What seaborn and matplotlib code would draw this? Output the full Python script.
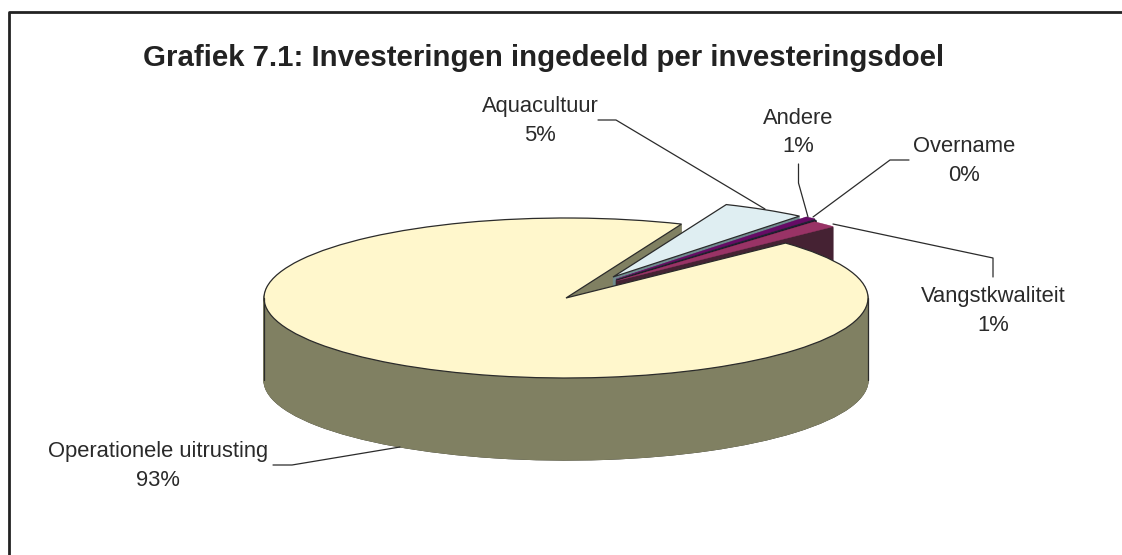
import numpy as np
import matplotlib
matplotlib.use("Agg")
import matplotlib.pyplot as plt
import seaborn as sns

# Values
categories = ["Aquacultuur", "Andere", "Overname", "Vangstkwaliteit", "Operationele uitrusting"]
shares = [4.6, 0.6, 0.1, 1.4, 93.3]
top_colors = ["#DFEEF2", "#660A66", "#1F1F3A", "#993366", "#FFF7CC"]
side_colors = ["#6F8A8E", "#2A2A2A", "#151515", "#452233", "#808062"]
title = "Grafiek 7.1: Investeringen ingedeeld per investeringsdoel"

sns.set_theme(style="white")
plt.rcParams["font.family"] = ["Liberation Sans", "DejaVu Sans"]

W, H = 1122, 555
CX, CY, RX, RY = 566, 298, 302, 80
DEPTH = 82 / RY
LINE = "#2b2b2b"
# how far each small slice is pulled out, in pixels
pull = [(47, 21), (50, 19), (50, 18), (50, 17)]
radii = [0.98, 1.0, 1.0, 0.99]

fig = plt.figure(figsize=(W / 100, H / 100), dpi=100)
ax = fig.add_axes([0, 0, 1, 1])


def px(x, y):
    return (x - CX) / RX, (CY - y) / RY


def draw_slice(i, center, color, edge=None, radius=1.0, lw=0.9):
    wedges, _ = ax.pie(shares, colors=[color] * len(shares), startangle=67.5,
                       counterclock=False, center=center, radius=radius,
                       wedgeprops={"edgecolor": edge or color, "linewidth": lw})
    for j, w in enumerate(wedges):
        if j != i:
            w.remove()


def extrude(i, center, depth, radius=1.0):
    for d in np.arange(depth, 0, -1 / RY):
        draw_slice(i, (center[0], center[1] - d), side_colors[i], radius=radius)


# big slice side first, then the pulled out slices, big top last
big = len(shares) - 1
draw_slice(big, (0, -DEPTH), side_colors[big], edge=LINE)
extrude(big, (0, 0), DEPTH)
ax.plot([-1, -1], [0, -DEPTH], color=LINE, lw=0.9)
ax.plot([1, 1], [0, -DEPTH], color=LINE, lw=0.9)

for i in range(big):
    center = (pull[i][0] / RX, pull[i][1] / RY)
    extrude(i, center, DEPTH, radius=radii[i])
    draw_slice(i, center, top_colors[i], edge=LINE if i == 0 else None,
               radius=radii[i], lw=0.9 if i == 0 else 0.3)
draw_slice(big, (0, 0), top_colors[big], edge=LINE)

ax.set_aspect("auto")
ax.set_xlim(px(0, 0)[0], px(W, 0)[0])
ax.set_ylim(px(0, H)[1], px(0, 0)[1])

# leader lines
leaders = [
    [(598, 120), (616, 120), (765, 209)],
    [(798.5, 164), (798.5, 183), (808, 217)],
    [(909, 160), (890, 160), (813, 217)],
    [(993, 277), (993, 258), (833, 224)],
    [(273, 465), (292, 465), (400, 447)],
]
for pts in leaders:
    xy = np.array([px(*p) for p in pts])
    ax.plot(xy[:, 0], xy[:, 1], color=LINE, lw=0.9)

label_pos = [(540, 121), (798, 132.5), (964, 161), (993, 311), (158, 466.5)]
for name, share, pos in zip(categories, shares, label_pos):
    ax.text(*px(*pos), f"{name}\n{share:.0f}%", ha="center", va="center",
            fontsize=15.8, color="#2a2a2a", linespacing=1.5)

ax.text(*px(543.5, 58), title, ha="center", va="center", fontsize=21.2,
        fontweight="bold", color="#222222")

# chart border, only left and top are in the picture
fr = np.array([px(*p) for p in [(8.5, H), (8.5, 11.5), (W, 11.5)]])
ax.plot(fr[:, 0], fr[:, 1], color="#222222", lw=2)

fig.savefig("out.png", dpi=100)
